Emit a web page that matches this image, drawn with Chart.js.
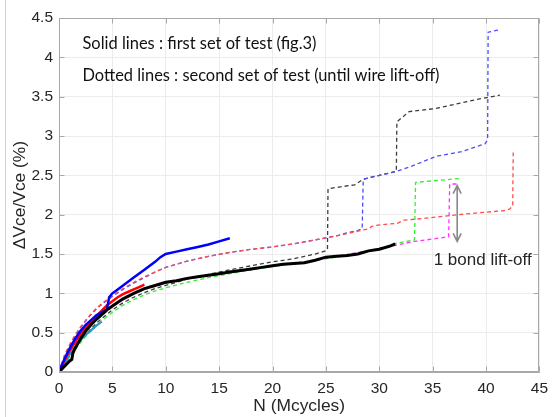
<!DOCTYPE html>
<html>
<head>
<meta charset="utf-8">
<script src="https://cdn.jsdelivr.net/npm/chart.js@4"></script>
<style>
  body { margin: 0; background: #fff; }
  #wrap { width: 555px; height: 417px; }
</style>
</head>
<body>
<div id="wrap"><canvas id="chart" width="555" height="417"></canvas></div>
<script>
// axis ticks
const xTicks = [0, 5, 10, 15, 20, 25, 30, 35, 40, 45];
const yTicks = [0, 0.5, 1, 1.5, 2, 2.5, 3, 3.5, 4, 4.5];

// solid lines : first set of test
const blueSolidN = [0, 0.3, 0.7, 1, 1.5, 2, 2.5, 3, 3.5, 4, 4.5, 4.7, 5, 5.5, 6, 7, 8, 9, 9.5, 10, 11, 12, 13, 14, 15, 16];
const blueSolidV = [0, 0.1, 0.22, 0.3, 0.42, 0.52, 0.6, 0.66, 0.72, 0.76, 0.8, 0.95, 1.0, 1.05, 1.1, 1.2, 1.3, 1.4, 1.46, 1.5, 1.53, 1.56, 1.59, 1.62, 1.66, 1.7];

const redSolidN = [0, 0.5, 1, 1.5, 2, 2.5, 3, 3.5, 4, 4.5, 5, 5.5, 6, 6.5, 7, 7.5, 8];
const redSolidV = [0, 0.14, 0.27, 0.38, 0.48, 0.56, 0.64, 0.71, 0.78, 0.85, 0.9, 0.95, 0.99, 1.02, 1.05, 1.08, 1.11];

const tealSolidN = [0, 0.5, 1, 1.5, 2, 2.5, 3, 3.5, 4];
const tealSolidV = [0, 0.1, 0.22, 0.32, 0.4, 0.47, 0.53, 0.59, 0.64];

const blackSolidN = [0, 0.5, 1, 1.2, 1.3, 1.5, 2, 2.5, 3, 3.5, 4, 4.5, 5, 6, 7, 8, 9, 10, 11, 12, 13, 14, 15, 16, 17, 18, 19, 20, 21, 22, 23, 24, 25, 26, 27, 28, 29, 30, 31, 31.5];
const blackSolidV = [0, 0.07, 0.14, 0.16, 0.24, 0.3, 0.42, 0.52, 0.6, 0.67, 0.73, 0.79, 0.84, 0.93, 1.0, 1.06, 1.1, 1.14, 1.16, 1.19, 1.21, 1.23, 1.25, 1.27, 1.29, 1.31, 1.33, 1.35, 1.37, 1.38, 1.39, 1.42, 1.46, 1.47, 1.48, 1.5, 1.54, 1.56, 1.6, 1.63];

// dotted lines : second set of test
const blueDashN = [0, 0.5, 1, 1.5, 2, 2.5, 3, 3.5, 4, 5, 6, 7, 8, 9, 10, 12, 14, 16, 18, 20, 22, 24, 26, 27, 28, 28.4, 28.5, 29.7, 31.6, 33.1, 35.3, 37.7, 39.9, 40.15, 40.2, 41.3];
const blueDashV = [0, 0.2, 0.34, 0.46, 0.56, 0.65, 0.73, 0.8, 0.86, 0.96, 1.05, 1.13, 1.2, 1.27, 1.33, 1.41, 1.47, 1.52, 1.56, 1.59, 1.63, 1.68, 1.73, 1.77, 1.8, 1.82, 2.45, 2.49, 2.55, 2.62, 2.74, 2.8, 2.9, 2.95, 4.32, 4.35];

const redDashN = [0, 0.5, 1, 1.5, 2, 2.5, 3, 3.5, 4, 5, 6, 7, 8, 9, 10, 12, 14, 16, 18, 20, 22, 24, 26, 28, 29, 29.3, 30, 31.7, 32.3, 34, 36.7, 39, 41.6, 42.2, 42.5, 42.55];
const redDashV = [0, 0.21, 0.35, 0.47, 0.57, 0.66, 0.74, 0.81, 0.87, 0.97, 1.06, 1.14, 1.21, 1.27, 1.33, 1.41, 1.47, 1.52, 1.56, 1.59, 1.63, 1.68, 1.73, 1.79, 1.82, 1.85, 1.87, 1.89, 1.93, 1.95, 1.99, 2.02, 2.05, 2.07, 2.11, 2.79];

const blackDashN = [0, 0.5, 1, 1.5, 2, 2.5, 3, 3.5, 4, 5, 6, 7, 8, 9, 10, 12, 14, 16, 18, 20, 21, 22, 23, 24, 25, 25.15, 25.2, 27.7, 28.5, 30, 31.6, 31.65, 32.8, 35.3, 39, 41.3];
const blackDashV = [0, 0.1, 0.2, 0.3, 0.39, 0.47, 0.55, 0.62, 0.68, 0.79, 0.88, 0.95, 1.01, 1.06, 1.1, 1.18, 1.24, 1.3, 1.35, 1.4, 1.42, 1.44, 1.47, 1.5, 1.54, 1.56, 2.33, 2.38, 2.45, 2.5, 2.55, 3.18, 3.31, 3.35, 3.46, 3.52];

const greenDashN = [0, 0.5, 1, 1.5, 2, 2.5, 3, 3.5, 4, 5, 6, 7, 8, 9, 10, 12, 14, 16, 18, 20, 22, 24, 26, 28, 30, 31.7, 33.3, 33.4, 35, 37.6];
const greenDashV = [0, 0.1, 0.19, 0.28, 0.37, 0.45, 0.52, 0.59, 0.65, 0.76, 0.85, 0.92, 0.98, 1.03, 1.07, 1.14, 1.2, 1.25, 1.3, 1.34, 1.38, 1.42, 1.46, 1.51, 1.57, 1.64, 1.68, 2.41, 2.43, 2.46];

const magentaDashN = [0, 0.5, 1, 1.5, 2, 2.5, 3, 3.5, 4, 5, 6, 7, 8, 9, 10, 12, 14, 16, 18, 20, 22, 24, 26, 28, 30, 31.5, 33.3, 35, 36.5, 36.6, 37.3];
const magentaDashV = [0.05, 0.16, 0.26, 0.35, 0.44, 0.52, 0.6, 0.66, 0.72, 0.83, 0.92, 0.99, 1.05, 1.09, 1.13, 1.18, 1.23, 1.28, 1.31, 1.35, 1.38, 1.42, 1.47, 1.52, 1.57, 1.61, 1.66, 1.69, 1.72, 2.39, 2.39];

// annotations (data coordinates)
const arrowN = 37.3;
const arrowV = [1.66, 2.37];
const bondLabel = { text: '1 bond lift-off', n: 35.1, v: 1.42 };
const noteLines = [
    { text: 'Solid lines : first set of test (fig.3)', n: 2.2, v: 4.18, width: 234 },
    { text: 'Dotted lines : second set of test (until wire lift-off)', n: 2.2, v: 3.77, width: 357 }
];

function pts(n, v) {
    return n.map((x, i) => ({ x: x, y: v[i] }));
}

function solid(n, v, color, w) {
    return { data: pts(n, v), borderColor: color, borderWidth: w, pointRadius: 0, showLine: true, fill: false };
}

function dashed(n, v, color) {
    return { data: pts(n, v), borderColor: color, borderWidth: 1.3, borderDash: [4, 3], pointRadius: 0, showLine: true, fill: false };
}

// MATLAB style labels: 0, 0.5, 1, 1.5 ...
function tickLabel(v) {
    return String(Math.round(v * 10) / 10);
}

// box, inward ticks, frame line, text notes and the arrow
const extras = {
    id: 'extras',
    beforeDraw(chart) {
        const ctx = chart.ctx;
        ctx.save();
        ctx.strokeStyle = '#d2d2d2';
        ctx.lineWidth = 1;
        ctx.beginPath();
        ctx.moveTo(5.5, 0);
        ctx.lineTo(5.5, 417);
        ctx.stroke();
        ctx.restore();
    },
    afterDraw(chart) {
        const ctx = chart.ctx;
        const a = chart.chartArea;
        const xs = chart.scales.x, ys = chart.scales.y;
        const L = Math.round(a.left) + 0.5, R = Math.round(a.right) - 0.5;
        const T = Math.round(a.top) + 0.5, B = Math.round(a.bottom) - 0.5;
        ctx.save();
        ctx.strokeStyle = '#a8a8a8';
        ctx.lineWidth = 1;
        ctx.strokeRect(L, T, R - L, B - T);
        ctx.beginPath();
        xTicks.forEach(t => {
            const px = Math.round(xs.getPixelForValue(t)) + 0.5;
            ctx.moveTo(px, B); ctx.lineTo(px, B - 5);
            ctx.moveTo(px, T); ctx.lineTo(px, T + 5);
        });
        yTicks.forEach(t => {
            const py = Math.round(ys.getPixelForValue(t)) + 0.5;
            ctx.moveTo(L, py); ctx.lineTo(L + 5, py);
            ctx.moveTo(R, py); ctx.lineTo(R - 5, py);
        });
        ctx.stroke();

        // double arrow
        const ax = xs.getPixelForValue(arrowN);
        const y1 = ys.getPixelForValue(arrowV[0]);
        const y2 = ys.getPixelForValue(arrowV[1]);
        ctx.strokeStyle = '#8a8a8a';
        ctx.lineWidth = 1.6;
        ctx.beginPath();
        ctx.moveTo(ax, y1); ctx.lineTo(ax, y2);
        ctx.moveTo(ax - 4, y2 + 8); ctx.lineTo(ax, y2); ctx.lineTo(ax + 4, y2 + 8);
        ctx.moveTo(ax - 4, y1 - 8); ctx.lineTo(ax, y1); ctx.lineTo(ax + 4, y1 - 8);
        ctx.stroke();

        // texts
        ctx.fillStyle = '#262626';
        ctx.textBaseline = 'middle';
        ctx.textAlign = 'left';
        ctx.font = '17px "Liberation Sans"';
        ctx.fillText(bondLabel.text, xs.getPixelForValue(bondLabel.n), ys.getPixelForValue(bondLabel.v));
        ctx.fillStyle = '#111';
        ctx.font = '17px Lato';
        noteLines.forEach(l => {
            ctx.fillText(l.text, xs.getPixelForValue(l.n), ys.getPixelForValue(l.v), l.width);
        });
        ctx.restore();
    }
};

const tickFont = { family: '"Liberation Sans", Arial, sans-serif', size: 15.5 };
const titleFont = { family: '"Liberation Sans", Arial, sans-serif', size: 17.4 };

new Chart(document.getElementById('chart'), {
    type: 'scatter',
    data: {
        datasets: [
            solid(blackSolidN, blackSolidV, '#000000', 3),
            solid(blueSolidN, blueSolidV, '#0000ff', 2.5),
            solid(redSolidN, redSolidV, '#ff0000', 2.5),
            solid(tealSolidN, tealSolidV, '#2f96cc', 2.2),
            dashed(magentaDashN, magentaDashV, '#ff33ff'),
            dashed(greenDashN, greenDashV, '#33ee33'),
            dashed(redDashN, redDashV, '#ff4d4d'),
            dashed(blueDashN, blueDashV, '#4d4dff'),
            dashed(blackDashN, blackDashV, '#3c3c3c')
        ]
    },
    options: {
        responsive: false,
        animation: false,
        devicePixelRatio: 1,
        layout: { padding: { top: 18, right: 10, left: 0, bottom: 0 } },
        plugins: {
            legend: { display: false },
            tooltip: { enabled: false }
        },
        scales: {
            x: {
                type: 'linear',
                min: 0,
                max: 45,
                ticks: { stepSize: 5, color: '#262626', font: tickFont, padding: 7, maxRotation: 0, callback: tickLabel },
                grid: { color: '#ececec', drawTicks: false },
                border: { color: '#a8a8a8' },
                title: { display: true, text: 'N (Mcycles)', color: '#262626', font: titleFont, padding: { top: 0, bottom: 0 } },
                afterFit(s) { s.height = 45; }
            },
            y: {
                type: 'linear',
                min: 0,
                max: 4.5,
                ticks: { stepSize: 0.5, color: '#262626', font: tickFont, padding: 6, callback: tickLabel },
                grid: { color: '#ececec', drawTicks: false },
                border: { color: '#a8a8a8' },
                title: { display: true, text: 'ΔVce/Vce (%)', color: '#262626', font: titleFont, padding: { top: 10, bottom: 0 } },
                afterFit(s) { s.width = 59; }
            }
        }
    },
    plugins: [extras]
});
</script>
</body>
</html>
